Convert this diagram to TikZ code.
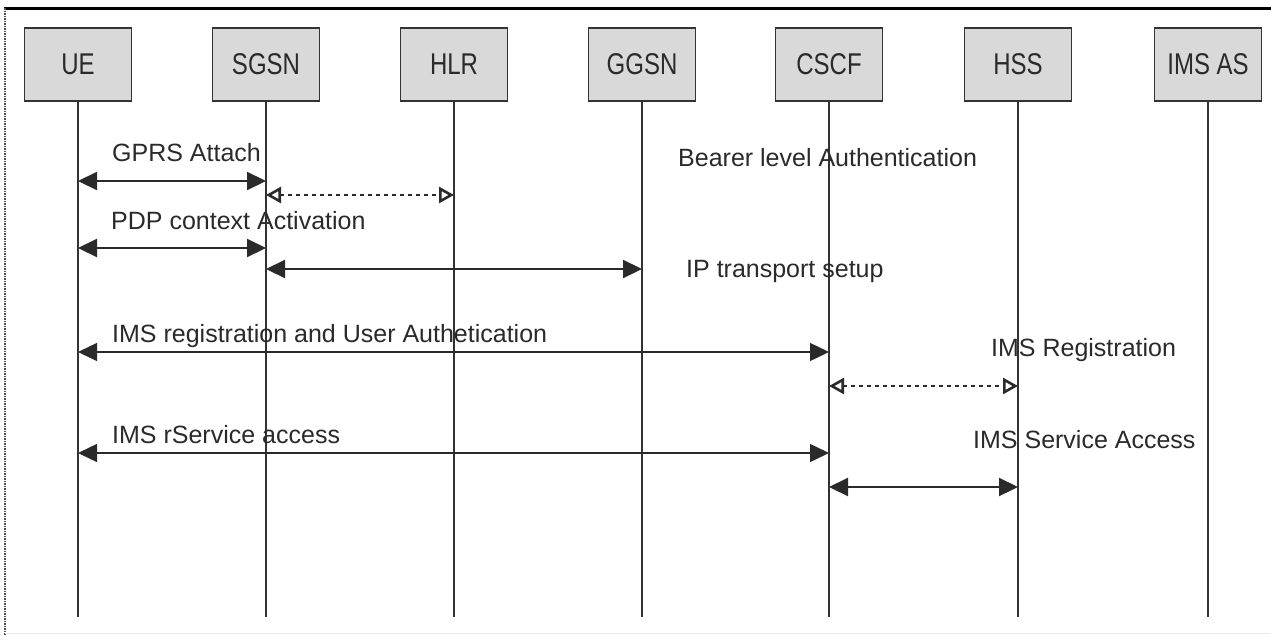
\documentclass[tikz,border=0pt]{standalone}
\usepackage{fontspec}
\setmainfont{Liberation Sans}
\newfontfamily\boxfont{Liberation Sans}[FakeStretch=0.8]
\usetikzlibrary{arrows.meta}
\definecolor{ink}{HTML}{2A2A2A}
\definecolor{boxfill}{HTML}{D9D9D9}
\definecolor{lifec}{HTML}{333333}
\tikzset{
  entity/.style={draw=lifec, line width=1.3pt, fill=boxfill, minimum width=107pt, minimum height=73pt, inner sep=0pt, font=\boxfont\fontsize{30}{33}\selectfont, text=ink},
  lifeline/.style={draw=lifec, line width=1.6pt},
  lbl/.style={anchor=base west, inner sep=0pt, text=ink, font=\fontsize{25}{30}\selectfont},
  msgthick/.style={draw=ink, line width=2.2pt, {Triangle[length=19pt,width=18pt]}-{Triangle[length=19pt,width=18pt]}},
  msgthin/.style={draw=ink, line width=1.4pt, {Triangle[length=19pt,width=18pt]}-{Triangle[length=19pt,width=18pt]}},
  msgdash/.style={draw=ink, line width=1.6pt, dash pattern=on 4pt off 4pt, {Triangle[open,length=15pt,width=16pt,line width=2.6pt]}-{Triangle[open,length=15pt,width=16pt,line width=2.6pt]}}
}
\begin{document}
\begin{tikzpicture}[x=1pt,y=-1pt]
\useasboundingbox (0,0) rectangle (1271,635);
% frame
\draw[line width=3pt, black] (4,8) -- (1271,8);
\draw[line width=1.5pt, black!70, dash pattern=on 1.5pt off 1pt] (5,8) -- (5,635);
\draw[line width=1.5pt, black!8] (5,633.5) -- (1271,633.5);
% entities
\foreach \n/\t/\x in {ue/UE/78, sgsn/SGSN/266, hlr/HLR/454, ggsn/GGSN/642, cscf/CSCF/829, hss/HSS/1018, imsas/IMS AS/1208}{
  \node[entity] (\n) at (\x,64.5) {\t};
  \coordinate (\n end) at (\x,617);
  \draw[lifeline] (\n.south) -- (\n end);
}
% y levels
\foreach \y in {181,195,248,269,352,386,453,487}{
  \coordinate (y\y) at (0,\y);
}
% messages
\draw[msgthick] (ue |- y181) -- (sgsn |- y181);
\draw[msgdash] (sgsn |- y195) -- (hlr |- y195);
\draw[msgthick] (ue |- y248) -- (sgsn |- y248);
\draw[msgthick] (sgsn |- y269) -- (ggsn |- y269);
\draw[msgthin] (ue |- y352) -- (cscf |- y352);
\draw[msgdash] (cscf |- y386) -- (hss |- y386);
\draw[msgthin] (ue |- y453) -- (cscf |- y453);
\draw[msgthick] (cscf |- y487) -- (hss |- y487);
% labels
\node[lbl] (l1) at (112,161) {GPRS Attach};
\node[lbl] (l2) at (678,166) {Bearer level Authentication};
\node[lbl] (l3) at (111,229) {PDP context Activation};
\node[lbl] (l4) at (686,277) {IP transport setup};
\node[lbl] (l5) at (112,342) {IMS registration and User Authetication};
\node[lbl] (l6) at (991,356) {IMS Registration};
\node[lbl] (l7) at (112,443) {IMS rService access};
\node[lbl] (l8) at (973,448) {IMS Service Access};
\end{tikzpicture}
\end{document}
